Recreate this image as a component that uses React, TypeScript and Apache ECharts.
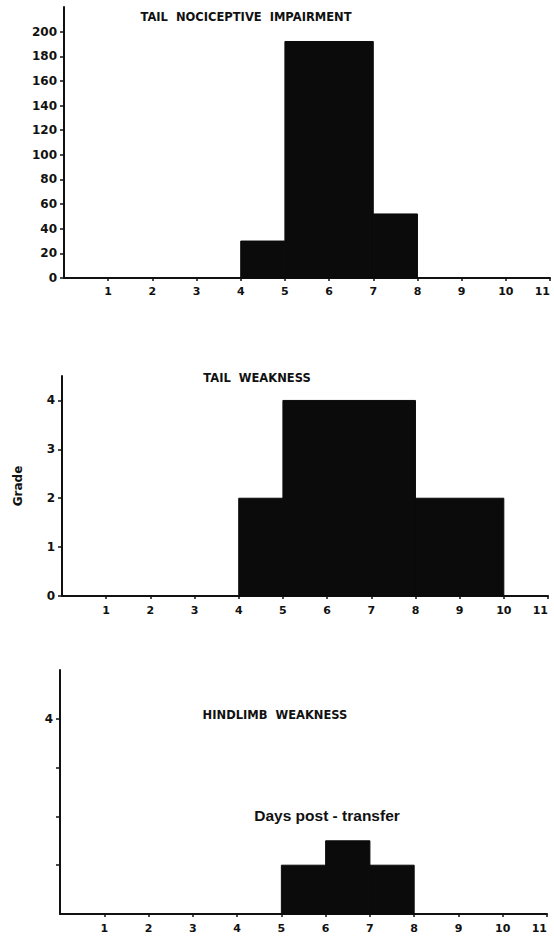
import React, { useEffect, useRef } from "react";
import * as echarts from "echarts";

// Day bins [start, end] and values for each panel
const nociBins: number[][] = [[4, 5], [5, 7], [7, 8]];
const nociValues: number[] = [30, 192, 52];

const weakBins: number[][] = [[4, 5], [5, 8], [8, 10]];
const weakValues: number[] = [2, 4, 2];

const hindBins: number[][] = [[5, 6], [6, 7], [7, 8]];
const hindValues: number[] = [1, 1.5, 1];

const dayTicks: number[] = [1, 2, 3, 4, 5, 6, 7, 8, 9, 10, 11];
const nociTicks: number[] = [0, 20, 40, 60, 80, 100, 120, 140, 160, 180, 200];
const weakTicks: number[] = [0, 1, 2, 3, 4];
const hindTicks: number[] = [1, 2, 3, 4];
const hindLabels: number[] = [4];

const titles: string[] = [
  "TAIL  NOCICEPTIVE  IMPAIRMENT",
  "TAIL  WEAKNESS",
  "HINDLIMB  WEAKNESS",
];
const xAxisTitle = "Days post - transfer";
const yAxisTitle = "Grade";

const FONT = "'DejaVu Sans', Arial, sans-serif";
const FONT2 = "'Liberation Sans', Arial, sans-serif";
const INK = "#111";

function buildData(bins: number[][], values: number[]) {
  return bins.map((b, i) => [b[0], b[1], values[i]]);
}

function renderBar(params: any, api: any) {
  const start = api.value(0);
  const end = api.value(1);
  const v = api.value(2);
  const p0 = api.coord([start, v]);
  const p1 = api.coord([end, 0]);
  return {
    type: "rect",
    shape: { x: p0[0], y: p0[1], width: p1[0] - p0[0], height: p1[1] - p0[1] },
    style: { fill: "#0b0b0b", stroke: "#0b0b0b", lineWidth: 1 },
  };
}

function xAxisFor(gridIndex: number, labelMargin: number) {
  return {
    type: "value",
    gridIndex,
    min: 0,
    max: 11,
    interval: 1,
    axisLine: { show: true, onZero: false, lineStyle: { color: INK, width: 2 } },
    axisTick: { show: true, length: 3, customValues: dayTicks, lineStyle: { color: INK, width: 1.5 } },
    axisLabel: {
      customValues: dayTicks,
      margin: labelMargin,
      color: INK,
      fontFamily: FONT,
      fontWeight: "bold",
      fontSize: 11,
      alignMaxLabel: "right",
    },
    splitLine: { show: false },
  };
}

function yAxisFor(gridIndex: number, max: number, ticks: number[], labels: number[], extra: any = {}) {
  return {
    type: "value",
    gridIndex,
    min: 0,
    max,
    axisLine: { show: true, lineStyle: { color: INK, width: 2 } },
    axisTick: { show: true, length: 4, customValues: ticks, lineStyle: { color: INK, width: 1.5 } },
    axisLabel: {
      customValues: labels,
      margin: 7,
      color: INK,
      fontFamily: FONT,
      fontWeight: "bold",
      fontSize: 12,
    },
    splitLine: { show: false },
    ...extra,
  };
}

export default function App() {
  const ref = useRef<HTMLDivElement>(null);

  useEffect(() => {
    document.body.style.margin = "0";
    const chart = echarts.init(ref.current!, null, { renderer: "svg" });
    const titleStyle = {
      fill: INK,
      font: `bold 11.5px ${FONT}`,
      textAlign: "center",
      textVerticalAlign: "middle",
    };
    chart.setOption({
      animation: false,
      backgroundColor: "#ffffff",
      grid: [
        { left: 64, right: 4, top: 7, bottom: 659, outerBoundsMode: "none", containLabel: false },
        { left: 62, right: 6, top: 376, bottom: 341, outerBoundsMode: "none", containLabel: false },
        { left: 60, right: 7, top: 670, bottom: 23, outerBoundsMode: "none", containLabel: false },
      ],
      xAxis: [xAxisFor(0, 8), xAxisFor(1, 9), xAxisFor(2, 9)],
      yAxis: [
        yAxisFor(0, 220, nociTicks, nociTicks),
        yAxisFor(1, 4.5, weakTicks, weakTicks, {
          name: yAxisTitle,
          nameLocation: "middle",
          nameRotate: 90,
          nameGap: 38,
          nameTextStyle: { color: INK, fontFamily: FONT, fontWeight: "bold", fontSize: 12 },
        }),
        yAxisFor(2, 5, hindTicks, hindLabels),
      ],
      graphic: [
        { type: "text", x: 246, y: 17, style: { ...titleStyle, text: titles[0] } },
        { type: "text", x: 257, y: 378, style: { ...titleStyle, text: titles[1] } },
        { type: "text", x: 275, y: 715, style: { ...titleStyle, text: titles[2] } },
        {
          type: "text",
          x: 327,
          y: 815,
          style: {
            text: xAxisTitle,
            fill: INK,
            font: `bold 15.5px ${FONT2}`,
            textAlign: "center",
            textVerticalAlign: "middle",
          },
        },
      ],
      series: [
        {
          type: "custom",
          xAxisIndex: 0,
          yAxisIndex: 0,
          renderItem: renderBar,
          encode: { x: [0, 1], y: 2 },
          data: buildData(nociBins, nociValues),
        },
        {
          type: "custom",
          xAxisIndex: 1,
          yAxisIndex: 1,
          renderItem: renderBar,
          encode: { x: [0, 1], y: 2 },
          data: buildData(weakBins, weakValues),
        },
        {
          type: "custom",
          xAxisIndex: 2,
          yAxisIndex: 2,
          renderItem: renderBar,
          encode: { x: [0, 1], y: 2 },
          data: buildData(hindBins, hindValues),
        },
      ],
    });
    return () => chart.dispose();
  }, []);

  return <div ref={ref} style={{ width: 554, height: 937 }} />;
}
